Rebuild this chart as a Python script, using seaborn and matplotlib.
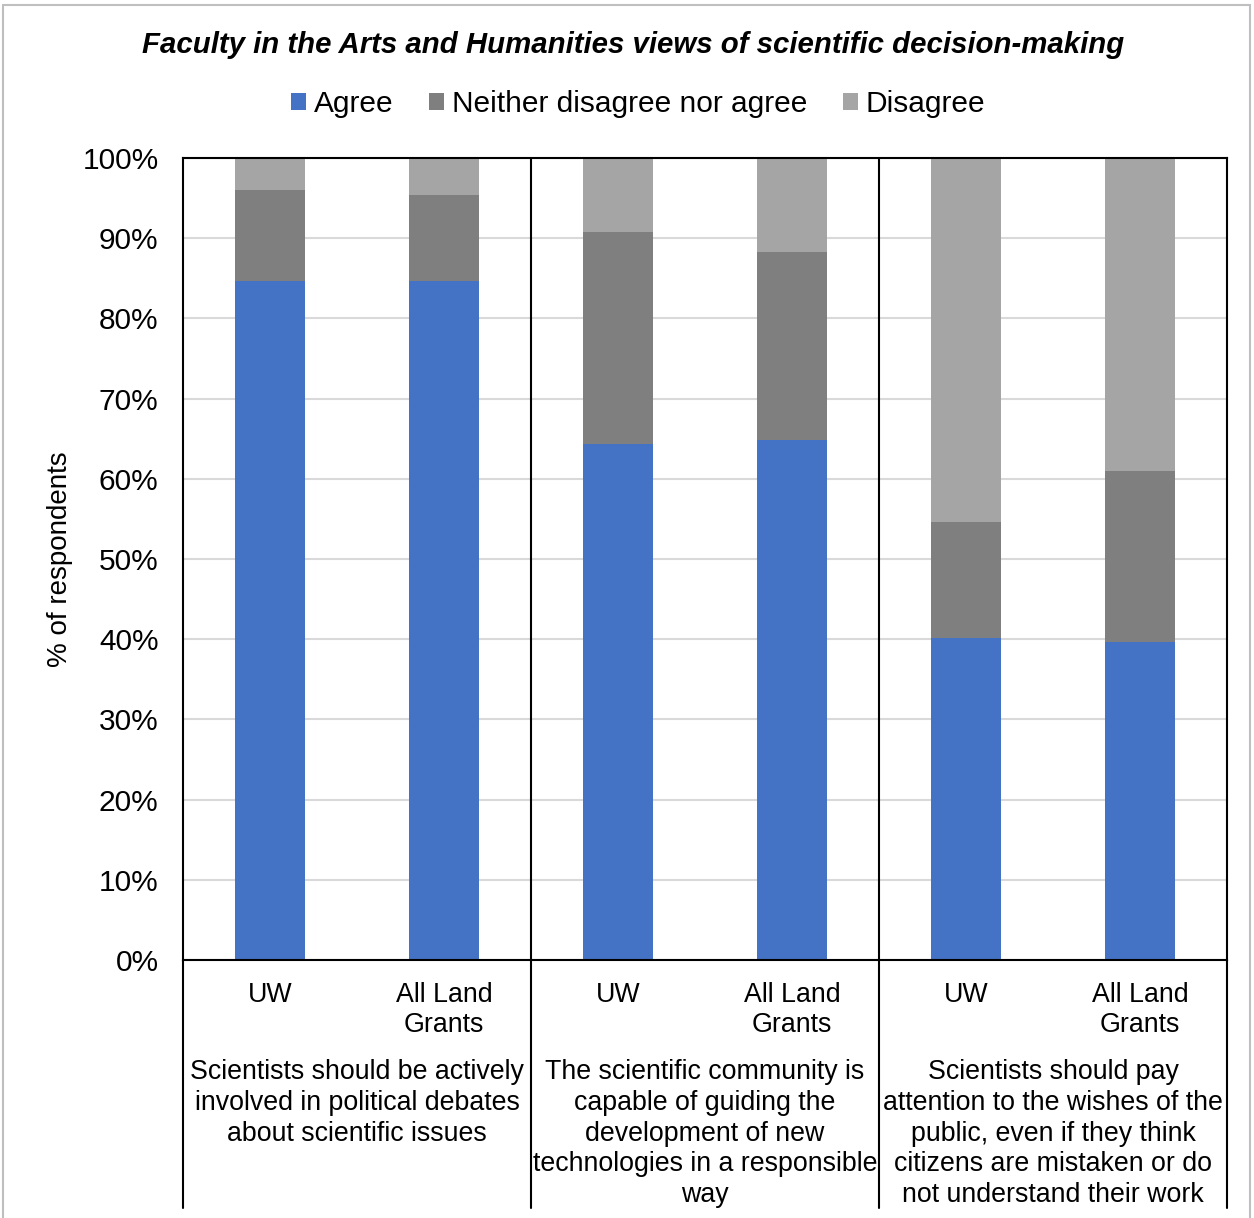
import matplotlib
matplotlib.use("Agg")
import matplotlib.pyplot as plt
import matplotlib.transforms as mtransforms
from matplotlib.patches import Patch, Rectangle
import seaborn as sns
import pandas as pd

# data (% of respondents)
questions = [
    "Scientists should be actively\ninvolved in political debates\nabout scientific issues",
    "The scientific community is\ncapable of guiding the\ndevelopment of new\ntechnologies in a responsible\nway",
    "Scientists should pay\nattention to the wishes of the\npublic, even if they think\ncitizens are mistaken or do\nnot understand their work",
]
groups = ["UW", "All Land\nGrants"]
agree = [84.7, 84.7, 64.4, 64.8, 40.1, 39.6]
neither = [11.3, 10.7, 26.4, 23.5, 14.5, 21.4]
disagree = [4.0, 4.6, 9.2, 11.7, 45.4, 39.0]
series = ["Agree", "Neither disagree nor agree", "Disagree"]
colors = ["#4472c4", "#7f7f7f", "#a5a5a5"]

df = pd.DataFrame({
    "question": [q for q in range(len(questions)) for _ in groups],
    "group": groups * len(questions),
    "Agree": agree,
    "Neither disagree nor agree": neither,
    "Disagree": disagree,
})
df["bar"] = df["question"].astype(str) + "-" + df["group"]
df["agree_top"] = df["Agree"]
df["neither_top"] = df["agree_top"] + df["Neither disagree nor agree"]
df["disagree_top"] = df["neither_top"] + df["Disagree"]

sns.set_theme(style="white")
plt.rcParams["font.family"] = ["Liberation Sans", "DejaVu Sans"]
plt.rcParams["text.color"] = "black"
plt.rcParams["xtick.color"] = "black"
plt.rcParams["ytick.color"] = "black"

W, H = 1254, 1218
fig = plt.figure(figsize=(W / 100, H / 100), dpi=100)
ax = fig.add_axes([183 / W, 1 - 960 / H, (1227 - 183) / W, (960 - 158) / H])

# stacked bars: draw the cumulative tops back to front
for col, color in [("disagree_top", colors[2]), ("neither_top", colors[1]), ("agree_top", colors[0])]:
    sns.barplot(data=df, x="bar", y=col, color=color, saturation=1, width=0.4,
                linewidth=0, ax=ax, zorder=2)

ax.set_xlim(-0.5, len(df) - 0.5)
ax.set_ylim(0, 100)
ax.set_yticks(range(0, 101, 10))
ax.set_yticklabels([f"{v}%" for v in range(0, 101, 10)], fontsize=21.5)
ax.yaxis.grid(True, color="#d9d9d9", lw=1.5)
ax.set_axisbelow(True)
ax.tick_params(axis="y", length=0, pad=17.5)
ax.set_xticks(range(len(df)))
ax.set_xticklabels(df["group"], fontsize=19.3, linespacing=1.22)
ax.tick_params(axis="x", length=0, pad=15.5)
ax.set_xlabel("")
ax.set_ylabel("")
for s in ax.spines.values():
    s.set_color("black")
    s.set_linewidth(1.5)

ax.text((60 - 183) / 1044, 0.5, "% of respondents", transform=ax.transAxes,
        rotation=90, ha="center", va="center", fontsize=20)

# group separators reaching down through the category labels
trans = mtransforms.blended_transform_factory(ax.transData, ax.transAxes)
low = -(1208 - 960) / (960 - 158)
for i in range(len(questions) + 1):
    x = 2 * i - 0.5
    top = 1 if 0 < i < len(questions) else 0
    ax.plot([x, x], [top, low], transform=trans, color="black", lw=1.5,
            clip_on=False, zorder=3)

# question labels under each pair of bars
ftrans = mtransforms.blended_transform_factory(ax.transData, fig.transFigure)
for i, q in enumerate(questions):
    ax.text(2 * i + 0.5, 1 - 1059 / H, q, transform=ftrans, ha="center", va="top",
            fontsize=19.3, linespacing=1.24, multialignment="center")

fig.text(633 / W, 1 - 45 / H,
         "Faculty in the Arts and Humanities views of scientific decision-making",
         ha="center", va="center", fontsize=21.2, fontweight="bold", fontstyle="italic")

handles = [Patch(facecolor=c, edgecolor="none", label=s) for s, c in zip(series, colors)]
fig.legend(handles=handles, loc="center", bbox_to_anchor=(638 / W, 1 - 104 / H),
           ncol=3, frameon=False, fontsize=21.5, handlelength=0.5, handleheight=0.5,
           handletextpad=0.25, columnspacing=1.2)

# outer chart frame
fig.patches.append(Rectangle((3 / W, -0.1), (1250 - 3) / W, 1.1 - 5 / H,
                             transform=fig.transFigure, fill=False,
                             edgecolor="#bfbfbf", lw=1.5))

fig.savefig("out.png", dpi=100)
